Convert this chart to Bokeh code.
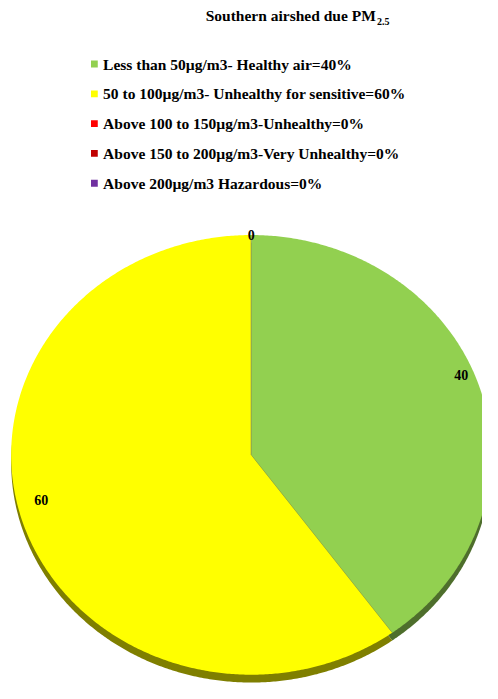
import numpy as np
from bokeh.plotting import figure
from bokeh.models import Range1d
from bokeh.core.properties import value
from bokeh.embed import file_html
from bokeh.resources import INLINE

# ---- data ----
categories = [
    "Less than 50\u00b5g/m3- Healthy air=40%",
    "50 to 100\u00b5g/m3- Unhealthy for sensitive=60%",
    "Above 100 to 150\u00b5g/m3-Unhealthy=0%",
    "Above 150 to 200\u00b5g/m3-Very Unhealthy=0%",
    "Above 200\u00b5g/m3 Hazardous=0%",
]
values = [40, 60, 0, 0, 0]
colors = ["#92D050", "#FFFF00", "#FF0000", "#C00000", "#7030A0"]
side_colors = ["#4E6E2C", "#7F7F00", "#800000", "#600000", "#381850"]
title_main = "Southern airshed due PM"
title_sub = "2.5"

# ---- layout (reference-pixel data units) ----
W, H = 482, 683
p = figure(width=W, height=H, output_backend="svg", toolbar_location=None,
           x_range=Range1d(0, 498), y_range=Range1d(699, 0),
           min_border=0, outline_line_color=None)
p.axis.visible = False
p.grid.visible = False
p.background_fill_color = "white"

FONT = value("Liberation Serif")

# title with subscript
p.text([212], [15], text=[title_main], text_font=FONT, text_font_size="15.5px",
       text_font_style="bold", text_baseline="middle", text_color="black")
p.text([389], [21], text=[title_sub], text_font=FONT, text_font_size="10px",
       text_font_style="bold", text_baseline="middle", text_color="black")

# legend
leg_y0, leg_dy = 65, 30.5
leg_y = [leg_y0 + i * leg_dy for i in range(len(categories))]
p.text([106] * len(categories), leg_y, text=categories, text_font=FONT,
       text_font_size="15.5px", text_font_style="bold",
       text_baseline="middle", text_color="black")
p.rect([97] * len(categories), leg_y, width=7, height=7, fill_color=colors,
       line_color=None)

cx, cy = 259, 465
rx, ry = 248, 225
depth = 8

total = float(sum(values))
fracs = [v / total for v in values]
starts = np.concatenate([[0.0], np.cumsum(fracs)[:-1]])


def wedge_pts(a0, a1, dy=0.0):
    t = np.linspace(a0, a1, max(int((a1 - a0) * 120), 2))
    xs = np.concatenate([[cx], cx + rx * np.sin(t), [cx]])
    ys = np.concatenate([[cy], cy - ry * np.cos(t), [cy]]) + dy
    return list(xs), list(ys)


side_xs, side_ys, side_c = [], [], []
top_xs, top_ys, top_c = [], [], []
for f, s, c, sc in zip(fracs, starts, colors, side_colors):
    if f <= 0:
        continue
    a0, a1 = 2 * np.pi * s, 2 * np.pi * (s + f)
    x, y = wedge_pts(a0, a1, depth)
    side_xs.append(x); side_ys.append(y); side_c.append(sc)
    x, y = wedge_pts(a0, a1)
    top_xs.append(x); top_ys.append(y); top_c.append(c)

p.patches(side_xs, side_ys, fill_color=side_c, line_color=None)
p.patches(top_xs, top_ys, fill_color=top_c, line_color=None)

# slice separators
bounds = sorted(set([round(2 * np.pi * b, 6) for b in np.cumsum([0] + fracs)]))
sx0, sy0, sx1, sy1 = [], [], [], []
for b in bounds:
    sx0.append(cx); sy0.append(cy)
    sx1.append(cx + rx * np.sin(b)); sy1.append(cy - ry * np.cos(b))
p.segment(sx0, sy0, sx1, sy1, line_color="#7F8F60", line_alpha=0.4, line_width=1)

# data labels
lcy, lf = 447, 0.92
lx, ly, lt = [], [], []
seen = set()
for v, f, s in zip(values, fracs, starts):
    mid = 2 * np.pi * (s + f / 2)
    x = cx + rx * lf * np.sin(mid)
    y = lcy - ry * lf * np.cos(mid)
    key = (round(x), round(y))
    if key in seen:
        continue
    seen.add(key)
    lx.append(x); ly.append(y); lt.append(str(v))
p.text(lx, ly, text=lt, text_font=FONT, text_font_size="14px",
       text_font_style="bold", text_align="center", text_baseline="middle",
       text_color="black")

open("out.html", "w").write(file_html(p, INLINE))
